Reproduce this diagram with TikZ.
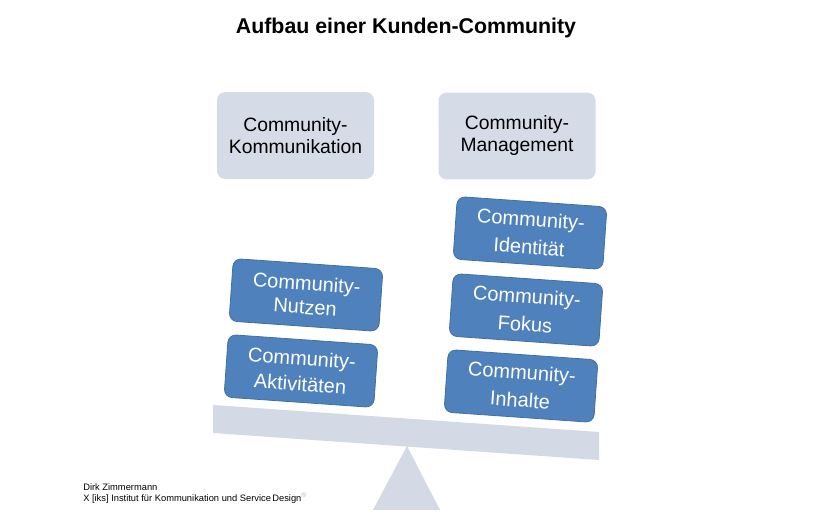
\documentclass[tikz,border=0pt]{standalone}
\usepackage{fontspec}
\setmainfont{Liberation Sans}
\definecolor{boxgray}{HTML}{D6DCE7}
\definecolor{beamgray}{HTML}{D3DAE6}
\definecolor{boxblue}{HTML}{4F81BD}
\definecolor{boxblueedge}{HTML}{41709F}
\begin{document}
\begin{tikzpicture}[x=0.75pt,y=0.75pt,
  graybox/.style={rectangle,rounded corners=6pt,fill=boxgray,draw=none,
    minimum width=117.75pt,minimum height=65pt,align=center,
    font=\fontsize{14.5pt}{16.5pt}\selectfont,text=black},
  bluebox/.style={rectangle,rounded corners=6pt,fill=boxblue,draw=boxblueedge,line width=0.6pt,
    minimum width=112.5pt,minimum height=47pt,align=center,rotate=-4,
    font=\fontsize{15pt}{21pt}\selectfont,text=white},
  tightblue/.style={bluebox,font=\fontsize{15pt}{18pt}\selectfont},
  midblue/.style={bluebox,font=\fontsize{15pt}{19.5pt}\selectfont},
  foot/.style={anchor=base west,inner sep=0pt,font=\fontsize{7pt}{8pt}\selectfont}]
\useasboundingbox (0,0) rectangle (821,530);
\fill[white] (0,0) rectangle (821,530);
% title
\node[font=\bfseries\fontsize{16pt}{18pt}\selectfont] (title) at (406,502) {Aufbau einer Kunden-Community};
% top boxes
\node[graybox] (kom) at (295.5,394.5) {Community-\\Kommunikation};
\node[graybox] (man) at (517,394) {Community-\\Management};
% fulcrum and beam
\fill[beamgray] (407,84) -- (373,20) -- (440,20) -- cycle;
\fill[beamgray] (213,125) -- (599,98) -- (599,70) -- (213,97) -- cycle;
% blue boxes
\node[bluebox] (ide) at (530,297) {Community-\\Identität};
\node[bluebox] (fok) at (526,220) {Community-\\Fokus};
\node[bluebox] (inh) at (521,144) {Community-\\Inhalte};
\node[tightblue] (nut) at (306,235) {Community-\\Nutzen};
\node[midblue] (akt) at (301,159) {Community-\\Aktivitäten};
% footnote
\node[foot] (f1) at (83,39) {Dirk Zimmermann};
\node[foot] (f2) at (83,28) {X [iks] Institut für Kommunikation und Service\kern1pt Design\textsuperscript{\textcolor{black!30}{\tiny ®}}};
\end{tikzpicture}
\end{document}
